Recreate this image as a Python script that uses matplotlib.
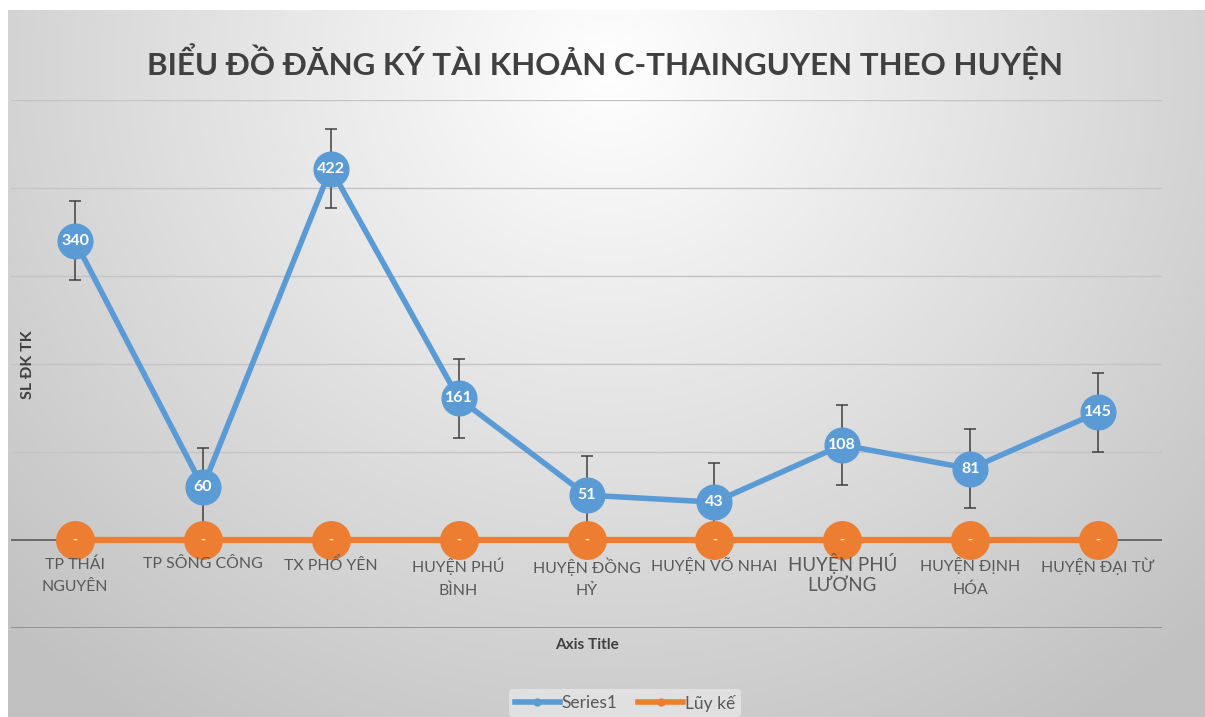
import numpy as np
import matplotlib.pyplot as plt
from matplotlib.lines import Line2D

plt.rcParams['font.family'] = ['Lato', 'DejaVu Sans']

# data
districts = ['TP THÁI\nNGUYÊN', 'TP SÔNG CÔNG', 'TX PHỔ YÊN', 'HUYỆN PHÚ\nBÌNH',
             'HUYỆN ĐỒNG\nHỶ', 'HUYỆN VÕ NHAI', 'HUYỆN PHÚ\nLƯƠNG',
             'HUYỆN ĐỊNH\nHÓA', 'HUYỆN ĐẠI TỪ']
series1 = [340, 60, 422, 161, 51, 43, 108, 81, 145]
luy_ke = [0, 0, 0, 0, 0, 0, 0, 0, 0]
err = 45  # standard error bars

blue = '#5B9BD5'
orange = '#ED7D31'

fig = plt.figure(figsize=(12.05, 7.17), dpi=100)

# gradient background of the chart area (white margin top/left)
bg = fig.add_axes([8/1205, 0, 1 - 8/1205, 1 - 10/717])
bg.set_axis_off()
yy, xx = np.mgrid[0:707, 0:1197]
d = np.sqrt(((xx - 600) / 700.0) ** 2 + ((yy - 60) / 650.0) ** 2)
shade = np.clip(1.0 - 0.20 * d, 0.76, 1.0)
bg.imshow(np.dstack([shade] * 3), aspect='auto', extent=[0, 1, 0, 1])
bg.set_xlim(0, 1)
bg.set_ylim(0, 1)

ax = fig.add_axes([11/1205, 89/717, 1151/1205, 528/717])
ax.set_facecolor('none')
x = np.arange(len(districts))

for v in range(-100, 600, 100):
    if v == 0:
        ax.axhline(v, color='#595959', lw=1.2, zorder=1)
    elif v == -100:
        ax.axhline(v, color='#8c8c8c', lw=1.2, zorder=1)
    else:
        ax.axhline(v, color='#c4c4c4', lw=1.0, zorder=1)

ax.errorbar(x, series1, yerr=err, fmt='none', ecolor='#404040', elinewidth=1.1,
            capsize=4, capthick=1.1, zorder=2)
ax.plot(x, luy_ke, color=orange, lw=4.5, marker='o', markersize=27,
        markerfacecolor=orange, markeredgecolor=orange, zorder=3)
ax.plot(x, series1, color=blue, lw=4, marker='o', markersize=25,
        markerfacecolor=blue, markeredgecolor=blue, zorder=4)

for xi, v in zip(x, series1):
    ax.text(xi, v, str(v), color='white', fontsize=11.5, fontweight='bold',
            ha='center', va='center', zorder=5)
for xi, v in zip(x, luy_ke):
    ax.text(xi, v, '-', color='white', fontsize=10, fontweight='bold',
            ha='center', va='center', zorder=5)

# category labels hang just below the zero line
for i, (xi, name) in enumerate(zip(x, districts)):
    big = i == 6
    ax.annotate(name, (xi, 0), xytext=(0, -9.5 if big else -12.5),
                textcoords='offset points', ha='center', va='top',
                fontsize=13.5 if big else 11.4, color='#595959',
                linespacing=1.2 if big else 1.75, zorder=5)

ax.set_xlim(-0.5, 8.5)
ax.set_ylim(-100, 500)
ax.set_xticks([])
ax.set_yticks([])
for s in ax.spines.values():
    s.set_visible(False)

fig.text(605/1205, 1 - 62/717, 'BIỂU ĐỒ ĐĂNG KÝ TÀI KHOẢN C-THAINGUYEN THEO HUYỆN',
         ha='center', va='center', fontsize=22.5, fontweight='bold', color='#404040')
fig.text(28/1205, 1 - 365/717, 'SL ĐK TK', rotation=90, ha='center', va='center',
         fontsize=11.5, fontweight='bold', color='#404040')
fig.text(587/1205, 1 - 645/717, 'Axis Title', ha='center', va='center',
         fontsize=11, fontweight='bold', color='#404040')

handles = [Line2D([], [], color=blue, lw=4, marker='o', markersize=5),
           Line2D([], [], color=orange, lw=4, marker='o', markersize=5)]
leg = fig.legend(handles, ['Series1', 'Lũy kế'], loc='center',
                 bbox_to_anchor=(625/1205, 1 - 703/717), ncol=2, frameon=True,
                 fontsize=12.5, handlelength=2.6, columnspacing=1.2,
                 handletextpad=0.1, borderpad=0.3)
leg.get_frame().set_facecolor('#e6e6e6')
leg.get_frame().set_edgecolor('none')
leg.get_frame().set_alpha(0.8)
for t in leg.get_texts():
    t.set_color('#595959')

fig.savefig('out.png', dpi=100)
